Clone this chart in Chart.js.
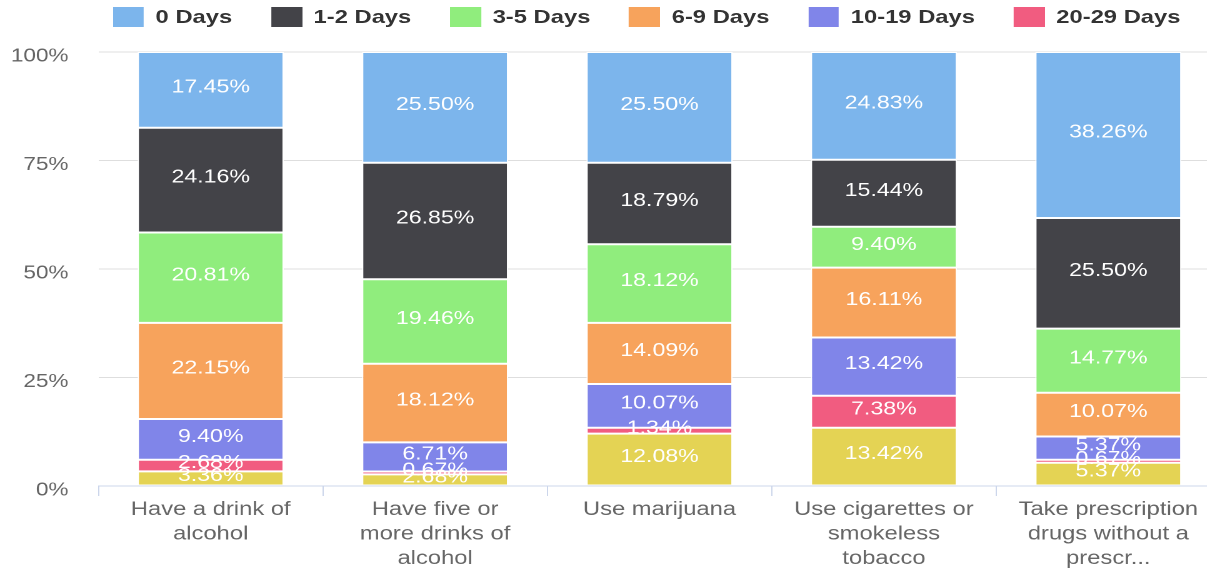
<!DOCTYPE html>
<html>
<head>
<meta charset="utf-8">
<script src="https://cdn.jsdelivr.net/npm/chart.js@4.4.1/dist/chart.umd.min.js"></script>
<style>
  html, body { margin: 0; padding: 0; background: #fff; overflow: hidden; }
  #wrap { position: relative; width: 1207px; height: 568px; overflow: hidden; }
  /* whole chart is drawn narrower and stretched sideways, like the source */
  #stretch { position: absolute; left: 0; top: 0; width: 985px; height: 568px;
             transform: scaleX(1.25); transform-origin: 0 0; }
  #legend { position: absolute; left: 90.4px; top: 0; height: 34px; display: flex;
            align-items: center; white-space: nowrap;
            font: bold 19px "Liberation Sans", Arial, sans-serif; color: #333; }
  .item { display: flex; align-items: center; margin-right: 31px; }
  .box { width: 24.8px; height: 20px; margin-right: 9.3px; }
  canvas { position: absolute; left: 0; top: 0; }
</style>
</head>
<body>
<div id="wrap">
  <div id="stretch">
    <canvas id="chart" width="985" height="568"></canvas>
    <div id="legend"></div>
  </div>
</div>
<script>
// kategori (sumbu x)
const categories = [
    ['Have a drink of', 'alcohol'],
    ['Have five or', 'more drinks of', 'alcohol'],
    ['Use marijuana'],
    ['Use cigarettes or', 'smokeless', 'tobacco'],
    ['Take prescription', 'drugs without a', 'prescr...']
];

// urutan dari atas ke bawah seperti di legenda
const seriesNames = ['0 Days', '1-2 Days', '3-5 Days', '6-9 Days', '10-19 Days', '20-29 Days', '30 Days'];
const seriesColors = ['#7cb5ec', '#434348', '#90ed7d', '#f7a35c', '#8085e9', '#f15c80', '#e4d354'];

// persen per kategori
const days0    = [17.45, 25.50, 25.50, 24.83, 38.26];
const days1_2  = [24.16, 26.85, 18.79, 15.44, 25.50];
const days3_5  = [20.81, 19.46, 18.12, 9.40, 14.77];
const days6_9  = [22.15, 18.12, 14.09, 16.11, 10.07];
const days10_19 = [9.40, 6.71, 10.07, 13.42, 5.37];
const days20_29 = [2.68, 0.67, 1.34, 7.38, 0.67];
const days30   = [3.36, 2.68, 12.08, 13.42, 5.37];

const yTicks = [0, 25, 50, 75, 100];

const seriesValues = [days0, days1_2, days3_5, days6_9, days10_19, days20_29, days30];

// legenda html (dipotong di kanan sama seperti aslinya)
const legendEl = document.getElementById('legend');
legendEl.innerHTML = seriesNames.map((name, i) =>
    `<div class="item"><div class="box" style="background:${seriesColors[i]}"></div>${name}</div>`
).join('');

// chart.js numpuk dari dataset pertama di bawah, jadi dibalik
const datasets = seriesNames.map((name, i) => ({
    label: name,
    data: seriesValues[i],
    backgroundColor: seriesColors[i],
    borderColor: '#ffffff',
    borderWidth: 1,
    borderSkipped: false,
    barPercentage: 0.651,
    categoryPercentage: 1
})).reverse();

// tulisan persen di tengah tiap potongan
const barLabels = {
    id: 'barLabels',
    afterDatasetsDraw(chart) {
        const { ctx, chartArea } = chart;
        ctx.save();
        ctx.beginPath();
        ctx.rect(chartArea.left, chartArea.top, chartArea.right - chartArea.left, chartArea.bottom - chartArea.top);
        ctx.clip();
        ctx.font = '18.5px "Liberation Sans", Arial, sans-serif';
        ctx.fillStyle = '#ffffff';
        ctx.textAlign = 'center';
        ctx.textBaseline = 'middle';
        chart.data.datasets.forEach((ds, i) => {
            chart.getDatasetMeta(i).data.forEach((bar, j) => {
                const p = bar.getCenterPoint();
                ctx.fillText(ds.data[j].toFixed(2) + '%', p.x, p.y - 2.5);
            });
        });
        ctx.restore();
    }
};

new Chart(document.getElementById('chart'), {
    type: 'bar',
    data: { labels: categories, datasets: datasets },
    plugins: [barLabels],
    options: {
        responsive: false,
        devicePixelRatio: 2,
        animation: false,
        layout: { padding: { top: 52, right: 8.6, left: 0, bottom: 0 } },
        plugins: {
            legend: { display: false },
            tooltip: { enabled: false }
        },
        scales: {
            x: {
                stacked: true,
                afterFit: (s) => { s.height = 82; },
                border: { display: true, color: '#ccd6eb', width: 1 },
                grid: { drawOnChartArea: false, drawTicks: true, tickLength: 10, color: '#ccd6eb' },
                ticks: {
                    autoSkip: false, maxRotation: 0, minRotation: 0, padding: 1.5,
                    color: '#666666',
                    font: { family: '"Liberation Sans", Arial, sans-serif', size: 19, lineHeight: 1.29 }
                }
            },
            y: {
                stacked: true,
                min: 0,
                max: 100,
                afterFit: (s) => { s.width = 78.8; },
                afterBuildTicks: (s) => { s.ticks = yTicks.map(v => ({ value: v })); },
                border: { display: false },
                grid: {
                    drawTicks: false,
                    color: (c) => c.tick && c.tick.value === 0 ? 'rgba(0,0,0,0)' : '#dedede'
                },
                ticks: {
                    padding: 24,
                    labelOffset: 4.5,
                    color: '#666666',
                    font: { family: '"Liberation Sans", Arial, sans-serif', size: 18 },
                    callback: (v) => v + '%'
                }
            }
        }
    }
});
</script>
</body>
</html>
